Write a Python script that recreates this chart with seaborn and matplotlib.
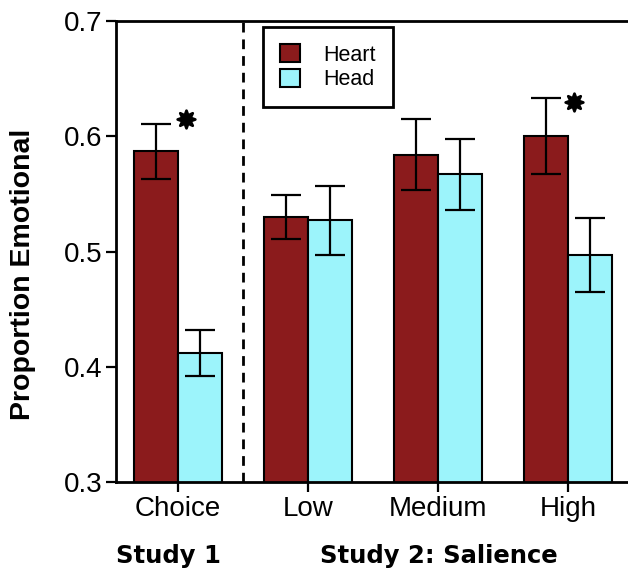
import matplotlib
matplotlib.use("Agg")
import matplotlib.pyplot as plt
import seaborn as sns
import pandas as pd
import numpy as np

categories = ["Choice", "Low", "Medium", "High"]
groups = ["Heart", "Head"]
heart_vals = [0.587, 0.530, 0.584, 0.600]
heart_err = [0.024, 0.019, 0.031, 0.033]
head_vals = [0.412, 0.527, 0.567, 0.497]
head_err = [0.020, 0.030, 0.031, 0.032]
star_cats = [0, 3]
star_y = [0.615, 0.630]
study_labels = ["Study 1", "Study 2: Salience"]
colors = {"Heart": "#8B1B1C", "Head": "#9CF4FB"}

df = pd.DataFrame({
    "cat": categories * 2,
    "grp": ["Heart"] * 4 + ["Head"] * 4,
    "val": heart_vals + head_vals,
    "err": heart_err + head_err,
})

sns.set_style("white")
plt.rcParams["font.family"] = ["Liberation Sans", "DejaVu Sans"]
plt.rcParams["text.color"] = "black"
plt.rcParams["axes.labelcolor"] = "black"
plt.rcParams["xtick.color"] = "black"
plt.rcParams["ytick.color"] = "black"

fig = plt.figure(figsize=(6.28, 5.71), dpi=100)
ax = fig.add_axes([116 / 628, 1 - 482 / 571, 1 - 116 / 628, (482 - 21) / 571])

sns.barplot(data=df, x="cat", y="val", hue="grp", order=categories, hue_order=groups,
            palette=colors, width=0.68, errorbar=None, edgecolor="black", linewidth=1.5,
            saturation=1, ax=ax, zorder=2)

for cont, g in zip(ax.containers, groups):
    sub = df[df.grp == g].set_index("cat").loc[categories]
    xs = [p.get_x() + p.get_width() / 2 for p in cont.patches]
    ax.errorbar(xs, sub["val"].values, yerr=sub["err"].values, fmt="none",
                ecolor="black", elinewidth=1.6, capsize=11, capthick=1.6, zorder=3)

ax.scatter([star_cats[0] + 0.06, star_cats[1] + 0.05], star_y, marker=(8, 1, 0),
           s=160, color="black", edgecolors="black", linewidths=2, zorder=4)

ax.axvline(0.5, color="black", linestyle=(0, (3.5, 2.5)), linewidth=2, zorder=1)

ax.set_ylim(0.3, 0.7)
ax.set_xlim(-0.477, 3.462)
ax.set_yticks([0.3, 0.4, 0.5, 0.6, 0.7])
ax.set_yticklabels(["0.3", "0.4", "0.5", "0.6", "0.7"])
ax.tick_params(axis="both", labelsize=20, width=1.6, length=7, direction="out",
               color="black", labelcolor="black", pad=3)
ax.tick_params(axis="y", left=True)
ax.tick_params(axis="x", bottom=True)
ax.set_xlabel("")
ax.set_ylabel("Proportion Emotional", fontsize=20.5, fontweight="bold", color="black")
ax.yaxis.set_label_coords((36 - 116) / 512, 1 - (274 - 21) / 461)
for s in ["left", "bottom", "top"]:
    ax.spines[s].set_visible(True)
    ax.spines[s].set_linewidth(2)
    ax.spines[s].set_color("black")
ax.spines["right"].set_visible(False)

leg = ax.legend(loc="upper left", bbox_to_anchor=((263 - 116) / 512, 1 - (27 - 21) / 461),
                borderaxespad=0, fontsize=15.5, frameon=True, fancybox=False, framealpha=1,
                handlelength=0.9, handleheight=0.9, handletextpad=1.1, labelspacing=0.15,
                borderpad=0.8)
leg.get_frame().set_edgecolor("black")
leg.get_frame().set_linewidth(2)
for t in leg.get_texts():
    t.set_color("black")
for h in leg.legend_handles:
    h.set_edgecolor("black")
    h.set_linewidth(1.5)

fig.text(168 / 628, 1 - 556 / 571, study_labels[0], fontsize=17.5, fontweight="heavy",
         family="DejaVu Sans", ha="center", va="center", color="black")
fig.text(439 / 628, 1 - 556 / 571, study_labels[1], fontsize=17.5, fontweight="heavy",
         family="DejaVu Sans", ha="center", va="center", color="black")

fig.savefig("out.png", dpi=100)
